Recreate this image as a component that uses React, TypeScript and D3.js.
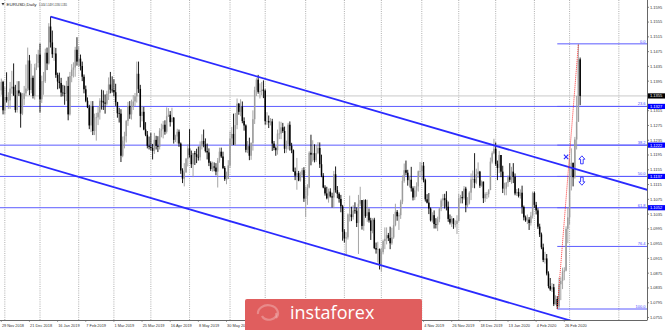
import React from 'react';
import * as d3 from 'd3';

const W = 665;
const H = 330;
const PLOT_R = 647;
const PLOT_B = 320;

const symbolTitle = 'EURUSD,Daily';
const headerValues = ['1.1454', '1.1459', '1.1330', '1.1355'];
const startDate = '2018-11-29';
const holidays = ['2018-12-25', '2019-01-01', '2019-12-25', '2020-01-01'];
const prevClose = 1.137;

// Daily closes, Nov 29 2018 .. Mar 10 2020
const closes = [
  1.1393, 1.1316,
  1.1352, 1.1343, 1.1343, 1.1375, 1.1380, 1.1357, 1.1317, 1.1370, 1.1362, 1.1307, 1.1347, 1.1362, 1.1375, 1.1451, 1.1371, 1.1404, 1.1355, 1.1432, 1.1444, 1.1467,
  1.1346, 1.1395, 1.1395, 1.1472, 1.1443, 1.1543, 1.1500, 1.1468, 1.1470, 1.1412, 1.1394, 1.1390, 1.1364, 1.1363, 1.1362, 1.1382, 1.1305, 1.1409, 1.1426, 1.1432, 1.1480, 1.1448,
  1.1456, 1.1436, 1.1407, 1.1373, 1.1342, 1.1324, 1.1275, 1.1327, 1.1260, 1.1296, 1.1297, 1.1310, 1.1342, 1.1341, 1.1337, 1.1334, 1.1361, 1.1386, 1.1372, 1.1371,
  1.1365, 1.1338, 1.1308, 1.1307, 1.1193, 1.1234, 1.1246, 1.1287, 1.1328, 1.1305, 1.1325, 1.1340, 1.1354, 1.1415, 1.1374, 1.1301, 1.1312, 1.1264, 1.1250, 1.1220, 1.1217,
  1.1214, 1.1206, 1.1236, 1.1220, 1.1217, 1.1261, 1.1265, 1.1277, 1.1258, 1.1300, 1.1304, 1.1284, 1.1296, 1.1236, 1.1245, 1.1258, 1.1226, 1.1153, 1.1131, 1.1148, 1.1185, 1.1213,
  1.1195, 1.1170, 1.1200, 1.1197, 1.1190, 1.1189, 1.1219, 1.1233, 1.1224, 1.1206, 1.1202, 1.1174, 1.1157, 1.1164, 1.1161, 1.1150, 1.1180, 1.1204, 1.1191, 1.1160, 1.1130, 1.1130, 1.1167,
  1.1240, 1.1252, 1.1223, 1.1276, 1.1334, 1.1312, 1.1326, 1.1287, 1.1275, 1.1209, 1.1219, 1.1193, 1.1228, 1.1292, 1.1371, 1.1399, 1.1366, 1.1368, 1.1372, 1.1369,
  1.1287, 1.1287, 1.1283, 1.1286, 1.1226, 1.1214, 1.1208, 1.1253, 1.1253, 1.1270, 1.1260, 1.1212, 1.1224, 1.1277, 1.1220, 1.1208, 1.1151, 1.1139, 1.1146, 1.1126, 1.1141, 1.1154, 1.1077,
  1.1085, 1.1107, 1.1201, 1.1196, 1.1200, 1.1181, 1.1200, 1.1214, 1.1170, 1.1139, 1.1107, 1.1091, 1.1078, 1.1096, 1.1083, 1.1080, 1.1143, 1.1100, 1.1090, 1.1076, 1.1056, 1.0987,
  1.0969, 1.0972, 1.1034, 1.1034, 1.1027, 1.1045, 1.1044, 1.1011, 1.1063, 1.1073, 1.1003, 1.1073, 1.1030, 1.1040, 1.1018, 1.0990, 1.1020, 1.0943, 1.0939, 1.0940, 1.0899,
  1.0932, 1.0962, 1.0968, 1.0978, 1.0970, 1.0956, 1.0972, 1.1005, 1.1041, 1.1029, 1.1032, 1.1069, 1.1125, 1.1154, 1.1147, 1.1127, 1.1128, 1.1105, 1.1080, 1.1099, 1.1110, 1.1151, 1.1151,
  1.1166, 1.1127, 1.1075, 1.1066, 1.1050, 1.1018, 1.1032, 1.1008, 1.1006, 1.1021, 1.1050, 1.1072, 1.1078, 1.1073, 1.1055, 1.1022, 1.1012, 1.1023, 1.1008, 1.1008, 1.1017,
  1.1078, 1.1081, 1.1078, 1.1104, 1.1059, 1.1064, 1.1093, 1.1129, 1.1130, 1.1120, 1.1143, 1.1150, 1.1112, 1.1123, 1.1078, 1.1089, 1.1089, 1.1100, 1.1177, 1.1200, 1.1212,
  1.1171, 1.1160, 1.1195, 1.1150, 1.1104, 1.1104, 1.1120, 1.1135, 1.1128, 1.1150, 1.1136, 1.1091, 1.1095, 1.1084, 1.1093, 1.1054, 1.1026, 1.1018, 1.1020, 1.1011, 1.1031, 1.1092,
  1.1060, 1.1045, 1.1001, 1.0980, 1.0945, 1.0911, 1.0915, 1.0874, 1.0840, 1.0831, 1.0837, 1.0791, 1.0805, 1.0785, 1.0845, 1.0854, 1.0879, 1.0882, 1.0995, 1.1026,
  1.1138, 1.1174, 1.1135, 1.1237, 1.1285, 1.1454, 1.1355,
];

const highs = [
  1.1402, 1.1396,
  1.1380, 1.1419, 1.1365, 1.1393, 1.1423, 1.1443, 1.1385, 1.1395, 1.1395, 1.1365, 1.1363, 1.1382, 1.1440, 1.1486, 1.1466, 1.1442, 1.1410, 1.1442, 1.1468, 1.1480,
  1.1497, 1.1410, 1.1420, 1.1483, 1.1486, 1.1552, 1.1570, 1.1532, 1.1487, 1.1485, 1.1418, 1.1418, 1.1404, 1.1385, 1.1383, 1.1396, 1.1407, 1.1420, 1.1441, 1.1446, 1.1488, 1.1514,
  1.1489, 1.1467, 1.1448, 1.1413, 1.1383, 1.1351, 1.1331, 1.1341, 1.1341, 1.1307, 1.1309, 1.1326, 1.1349, 1.1372, 1.1370, 1.1359, 1.1369, 1.1405, 1.1420, 1.1408,
  1.1400, 1.1388, 1.1339, 1.1323, 1.1319, 1.1245, 1.1258, 1.1290, 1.1339, 1.1341, 1.1345, 1.1357, 1.1363, 1.1448, 1.1448, 1.1385, 1.1328, 1.1325, 1.1284, 1.1260, 1.1245,
  1.1255, 1.1225, 1.1255, 1.1247, 1.1246, 1.1268, 1.1280, 1.1287, 1.1289, 1.1324, 1.1322, 1.1314, 1.1323, 1.1298, 1.1250, 1.1266, 1.1264, 1.1229, 1.1159, 1.1173, 1.1187, 1.1224,
  1.1265, 1.1207, 1.1200, 1.1206, 1.1212, 1.1218, 1.1232, 1.1251, 1.1264, 1.1240, 1.1226, 1.1213, 1.1178, 1.1177, 1.1175, 1.1173, 1.1187, 1.1215, 1.1215, 1.1204, 1.1165, 1.1150, 1.1181,
  1.1259, 1.1271, 1.1307, 1.1309, 1.1348, 1.1336, 1.1346, 1.1340, 1.1297, 1.1278, 1.1233, 1.1242, 1.1229, 1.1316, 1.1380, 1.1403, 1.1412, 1.1389, 1.1393, 1.1397,
  1.1373, 1.1311, 1.1302, 1.1295, 1.1293, 1.1233, 1.1218, 1.1264, 1.1286, 1.1285, 1.1282, 1.1272, 1.1234, 1.1282, 1.1286, 1.1228, 1.1210, 1.1161, 1.1187, 1.1152, 1.1150, 1.1160, 1.1162,
  1.1110, 1.1116, 1.1205, 1.1250, 1.1235, 1.1224, 1.1222, 1.1230, 1.1229, 1.1196, 1.1146, 1.1113, 1.1109, 1.1104, 1.1105, 1.1093, 1.1152, 1.1164, 1.1111, 1.1094, 1.1087, 1.1060,
  1.0994, 1.0986, 1.1037, 1.1085, 1.1055, 1.1059, 1.1067, 1.1053, 1.1087, 1.1109, 1.1046, 1.1075, 1.1075, 1.1074, 1.1050, 1.1025, 1.1024, 1.1025, 1.0958, 1.0960, 1.0942,
  1.0944, 1.0966, 1.0999, 1.0999, 1.0984, 1.1001, 1.0998, 1.1035, 1.1063, 1.1046, 1.1039, 1.1074, 1.1140, 1.1172, 1.1180, 1.1155, 1.1139, 1.1163, 1.1110, 1.1111, 1.1121, 1.1153, 1.1176,
  1.1175, 1.1176, 1.1131, 1.1089, 1.1092, 1.1053, 1.1040, 1.1045, 1.1024, 1.1028, 1.1052, 1.1077, 1.1089, 1.1090, 1.1097, 1.1069, 1.1034, 1.1030, 1.1024, 1.1018, 1.1032,
  1.1090, 1.1087, 1.1097, 1.1111, 1.1109, 1.1081, 1.1097, 1.1145, 1.1153, 1.1200, 1.1158, 1.1175, 1.1152, 1.1126, 1.1123, 1.1094, 1.1095, 1.1103, 1.1188, 1.1205, 1.1239,
  1.1229, 1.1180, 1.1206, 1.1195, 1.1166, 1.1120, 1.1122, 1.1140, 1.1173, 1.1163, 1.1173, 1.1145, 1.1103, 1.1105, 1.1102, 1.1112, 1.1058, 1.1031, 1.1034, 1.1027, 1.1041, 1.1096,
  1.1096, 1.1068, 1.1051, 1.1009, 1.0985, 1.0955, 1.0933, 1.0927, 1.0880, 1.0862, 1.0848, 1.0846, 1.0815, 1.0813, 1.0863, 1.0864, 1.0890, 1.0891, 1.1002, 1.1053,
  1.1185, 1.1213, 1.1168, 1.1244, 1.1355, 1.1496, 1.1459,
];

const lows = [
  1.1358, 1.1305,
  1.1305, 1.1337, 1.1320, 1.1320, 1.1361, 1.1355, 1.1310, 1.1310, 1.1355, 1.1269, 1.1303, 1.1330, 1.1355, 1.1368, 1.1357, 1.1362, 1.1348, 1.1345, 1.1425, 1.1432,
  1.1310, 1.1336, 1.1358, 1.1390, 1.1425, 1.1440, 1.1486, 1.1458, 1.1450, 1.1404, 1.1373, 1.1375, 1.1353, 1.1354, 1.1331, 1.1341, 1.1289, 1.1302, 1.1392, 1.1405, 1.1407, 1.1437,
  1.1433, 1.1424, 1.1395, 1.1362, 1.1338, 1.1322, 1.1265, 1.1257, 1.1249, 1.1249, 1.1234, 1.1276, 1.1291, 1.1318, 1.1317, 1.1307, 1.1329, 1.1344, 1.1362, 1.1364,
  1.1354, 1.1328, 1.1296, 1.1283, 1.1176, 1.1189, 1.1213, 1.1229, 1.1274, 1.1293, 1.1291, 1.1317, 1.1328, 1.1337, 1.1363, 1.1270, 1.1286, 1.1262, 1.1246, 1.1213, 1.1210,
  1.1207, 1.1183, 1.1198, 1.1210, 1.1203, 1.1210, 1.1243, 1.1240, 1.1250, 1.1253, 1.1298, 1.1272, 1.1285, 1.1226, 1.1230, 1.1226, 1.1217, 1.1144, 1.1119, 1.1110, 1.1147, 1.1164,
  1.1188, 1.1160, 1.1135, 1.1168, 1.1173, 1.1180, 1.1180, 1.1210, 1.1216, 1.1202, 1.1183, 1.1165, 1.1152, 1.1150, 1.1151, 1.1140, 1.1107, 1.1174, 1.1187, 1.1157, 1.1125, 1.1116, 1.1136,
  1.1160, 1.1221, 1.1222, 1.1220, 1.1265, 1.1304, 1.1300, 1.1281, 1.1261, 1.1202, 1.1200, 1.1181, 1.1182, 1.1207, 1.1279, 1.1355, 1.1361, 1.1348, 1.1357, 1.1349,
  1.1277, 1.1277, 1.1268, 1.1275, 1.1206, 1.1208, 1.1193, 1.1196, 1.1238, 1.1238, 1.1255, 1.1200, 1.1201, 1.1210, 1.1207, 1.1200, 1.1149, 1.1127, 1.1101, 1.1124, 1.1123, 1.1134, 1.1068,
  1.1027, 1.1060, 1.1105, 1.1167, 1.1177, 1.1175, 1.1176, 1.1197, 1.1160, 1.1135, 1.1105, 1.1085, 1.1075, 1.1066, 1.1080, 1.1053, 1.1051, 1.1093, 1.1078, 1.1066, 1.1040, 1.0963,
  1.0958, 1.0926, 1.0966, 1.1015, 1.1016, 1.1020, 1.1036, 1.1000, 1.0927, 1.1057, 1.0993, 1.0990, 1.1025, 1.1014, 1.1012, 1.0965, 1.0983, 1.0940, 1.0928, 1.0904, 1.0885,
  1.0879, 1.0926, 1.0940, 1.0953, 1.0962, 1.0940, 1.0952, 1.0968, 1.1002, 1.1017, 1.0992, 1.1022, 1.1062, 1.1120, 1.1140, 1.1112, 1.1107, 1.1096, 1.1072, 1.1073, 1.1082, 1.1096, 1.1136,
  1.1128, 1.1121, 1.1069, 1.1064, 1.1035, 1.1015, 1.1012, 1.0996, 1.0996, 1.0989, 1.1013, 1.1043, 1.1056, 1.1050, 1.1045, 1.1014, 1.1007, 1.1000, 1.0995, 1.0999, 1.0981,
  1.1014, 1.1064, 1.1064, 1.1074, 1.1040, 1.1054, 1.1061, 1.1073, 1.1106, 1.1105, 1.1116, 1.1133, 1.1106, 1.1109, 1.1065, 1.1068, 1.1076, 1.1080, 1.1100, 1.1172, 1.1197,
  1.1166, 1.1127, 1.1146, 1.1135, 1.1092, 1.1086, 1.1086, 1.1109, 1.1122, 1.1117, 1.1119, 1.1086, 1.1084, 1.1080, 1.1077, 1.1036, 1.1018, 1.1014, 1.1008, 1.0992, 1.1004, 1.1023,
  1.1052, 1.1034, 1.0995, 1.0973, 1.0940, 1.0905, 1.0901, 1.0869, 1.0834, 1.0827, 1.0824, 1.0786, 1.0790, 1.0778, 1.0780, 1.0802, 1.0832, 1.0856, 1.0880, 1.0956,
  1.1007, 1.1099, 1.1110, 1.1131, 1.1210, 1.1301, 1.1330,
];

const dateLabels = [
  '29 Nov 2018', '21 Dec 2018', '16 Jan 2019', '7 Feb 2019', '1 Mar 2019', '25 Mar 2019',
  '16 Apr 2019', '8 May 2019', '30 May 2019', '21 Jun 2019', '15 Jul 2019', '6 Aug 2019',
  '28 Aug 2019', '19 Sep 2019', '11 Oct 2019', '4 Nov 2019', '26 Nov 2019', '18 Dec 2019',
  '13 Jan 2020', '4 Feb 2020', '26 Feb 2020',
];
const labelStep = 16;

const priceTicks = [
  1.1595, 1.1555, 1.1515, 1.1475, 1.1435, 1.1395, 1.1355, 1.1315, 1.1275, 1.1235, 1.1195,
  1.1155, 1.1115, 1.1075, 1.1035, 1.0995, 1.0955, 1.0915, 1.0875, 1.0835, 1.0795, 1.0755,
];

const fibLevels = [0, 23.6, 38.2, 50, 61.8, 76.4, 100];
const fullWidthLevels = [23.6, 38.2, 50, 61.8];
const bidPrice = 1.1355;

const upperChannel = [{ i: 28, p: 1.157 }, { i: 367, p: 1.1101 }];
const lowerChannel = [{ i: 0, p: 1.1197 }, { i: 367, p: 1.0686 }];

const markers = [
  { kind: 'cross', i: 321, p: 1.119 },
  { kind: 'up', i: 330, p: 1.1182 },
  { kind: 'down', i: 330, p: 1.1124 },
];
const futureGridDates = ['2020-04-01'];

const FONT = 'Liberation Sans, Arial, sans-serif';

export default function App() {
  const n = closes.length;
  const hol = new Set(holidays);
  const dates: Date[] = [];
  let d = new Date(startDate + 'T00:00:00Z');
  while (dates.length < n) {
    const wd = d.getUTCDay();
    const key = d.toISOString().slice(0, 10);
    if (wd !== 0 && wd !== 6 && !hol.has(key)) dates.push(new Date(d.getTime()));
    d = new Date(d.getTime() + 86400000);
  }
  const lastDate = dates[n - 1];
  const futureIdx = futureGridDates.map(
    (s) => n - 1 + Math.round((Date.parse(s + 'T00:00:00Z') - lastDate.getTime()) / 86400000)
  );
  const monthStarts = dates
    .map((dt, i) => (i > 0 && dt.getUTCMonth() !== dates[i - 1].getUTCMonth() ? i : -1))
    .filter((i) => i >= 0);
  const gridIdx = [...monthStarts, ...futureIdx];

  const x = d3.scaleLinear().domain([0, 351]).range([1.3, 1.3 + 351 * 1.7594]);
  const y = d3.scaleLinear().domain([1.0755, 1.1595]).range([317.5, 7.3]);

  const bars = closes.map((c, i) => {
    const o = i === 0 ? prevClose : closes[i - 1];
    const h = Math.max(highs[i], o, c);
    const l = Math.min(lows[i], o, c);
    return { i, o, h, l, c, bull: c >= o };
  });

  const lowIdx = d3.minIndex(lows);
  const highIdx = lowIdx + d3.maxIndex(highs.slice(lowIdx));
  const fibLow = lows[lowIdx];
  const fibHigh = highs[highIdx];
  const lvlPrice = (lv: number) => fibHigh - ((fibHigh - fibLow) * lv) / 100;

  const chanAt = (ch: { i: number; p: number }[], i: number) =>
    ch[0].p + ((ch[1].p - ch[0].p) * (i - ch[0].i)) / (ch[1].i - ch[0].i);
  const iLeft = x.invert(-5);
  const iRight = x.invert(PLOT_R + 5);

  const blue = '#2a2aff';
  const fibBlue = '#5b5bff';

  return (
    <svg
      width={W}
      height={H}
      style={{ position: 'absolute', left: 0, top: 0, background: '#fff' }}
      fontFamily={FONT}
    >
      <defs>
        <clipPath id="plot">
          <rect x={0} y={0} width={PLOT_R} height={PLOT_B} />
        </clipPath>
      </defs>
      <rect x={0} y={0} width={W} height={H} fill="#fff" />

      <g clipPath="url(#plot)">
        {/* vertical month grid */}
        {gridIdx.map((gi) => (
          <line
            key={'g' + gi}
            x1={x(gi)}
            x2={x(gi)}
            y1={0}
            y2={PLOT_B}
            stroke="#9a9a9a"
            strokeWidth={0.8}
            strokeDasharray="1,1.2"
          />
        ))}

        {/* bid line */}
        <line x1={0} x2={PLOT_R} y1={y(bidPrice)} y2={y(bidPrice)} stroke="#c9c9c9" strokeWidth={1} />

        {/* full width horizontal levels */}
        {fullWidthLevels.map((lv) => (
          <line
            key={'h' + lv}
            x1={0}
            x2={PLOT_R}
            y1={y(lvlPrice(lv))}
            y2={y(lvlPrice(lv))}
            stroke={fibBlue}
            strokeWidth={1}
          />
        ))}

        {/* fibo levels */}
        {fibLevels.map((lv) => (
          <g key={'f' + lv}>
            <line
              x1={x(lowIdx)}
              x2={PLOT_R}
              y1={y(lvlPrice(lv))}
              y2={y(lvlPrice(lv))}
              stroke={fibBlue}
              strokeWidth={1}
            />
            <text
              x={PLOT_R - 1.5}
              y={y(lvlPrice(lv)) - 1.2}
              textAnchor="end"
              fontSize={4}
              fill="#4646ff"
            >
              {lv.toFixed(1)}
            </text>
          </g>
        ))}

        {/* candles */}
        {bars.map((b) => {
          const col = b.bull ? '#9c9c9c' : '#000';
          const cx = x(b.i);
          const yTop = y(Math.max(b.o, b.c));
          const yBot = y(Math.min(b.o, b.c));
          return (
            <g key={'c' + b.i}>
              <line x1={cx} x2={cx} y1={y(b.h)} y2={y(b.l)} stroke={col} strokeWidth={0.9} />
              <rect
                x={cx - 0.75}
                y={yTop}
                width={1.5}
                height={Math.max(0.7, yBot - yTop)}
                fill={col}
              />
            </g>
          );
        })}

        {/* channel lines */}
        <line
          x1={x(upperChannel[0].i)}
          y1={y(upperChannel[0].p)}
          x2={x(iRight)}
          y2={y(chanAt(upperChannel, iRight))}
          stroke={blue}
          strokeWidth={1.8}
        />
        <line
          x1={x(iLeft)}
          y1={y(chanAt(lowerChannel, iLeft))}
          x2={x(iRight)}
          y2={y(chanAt(lowerChannel, iRight))}
          stroke={blue}
          strokeWidth={1.8}
        />

        {/* fibo trend line */}
        <line
          x1={x(lowIdx)}
          y1={y(fibLow)}
          x2={x(highIdx)}
          y2={y(fibHigh)}
          stroke="#ff2020"
          strokeWidth={0.9}
          strokeDasharray="1,1"
        />

        {/* arrow markers */}
        {markers.map((m, k) => {
          const cx = x(m.i);
          const cy = y(m.p);
          if (m.kind === 'cross') {
            return (
              <g key={'m' + k} stroke={blue} strokeWidth={1.1}>
                <line x1={cx - 2.2} y1={cy - 2.2} x2={cx + 2.2} y2={cy + 2.2} />
                <line x1={cx - 2.2} y1={cy + 2.2} x2={cx + 2.2} y2={cy - 2.2} />
              </g>
            );
          }
          const s = m.kind === 'up' ? 1 : -1;
          const pts = [
            [0, -4],
            [3, -0.6],
            [1.3, -0.6],
            [1.3, 4],
            [-1.3, 4],
            [-1.3, -0.6],
            [-3, -0.6],
          ]
            .map(([px, py]) => `${cx + px},${cy + s * py}`)
            .join(' ');
          return <polygon key={'m' + k} points={pts} fill="#fff" stroke={blue} strokeWidth={0.9} />;
        })}
      </g>

      {/* axes frame */}
      <line x1={PLOT_R + 0.5} x2={PLOT_R + 0.5} y1={0} y2={PLOT_B} stroke="#666" strokeWidth={1} />
      <line x1={0} x2={PLOT_R + 0.5} y1={PLOT_B + 0.5} y2={PLOT_B + 0.5} stroke="#666" strokeWidth={1} />

      {/* price axis labels */}
      {priceTicks.map((p) => (
        <g key={'p' + p}>
          <line x1={PLOT_R} x2={PLOT_R + 2} y1={y(p)} y2={y(p)} stroke="#666" strokeWidth={0.8} />
          <text x={PLOT_R + 3} y={y(p) + 1.4} fontSize={4} fill="#333">
            {p.toFixed(4)}
          </text>
        </g>
      ))}

      {/* level boxes on axis */}
      {fullWidthLevels.map((lv) => {
        const yy = y(lvlPrice(lv));
        return (
          <g key={'b' + lv}>
            <rect x={PLOT_R + 1} y={yy - 2.6} width={17} height={5.2} fill="#0000ff" />
            <text x={PLOT_R + 3} y={yy + 1.4} fontSize={4} fill="#fff">
              {lvlPrice(lv).toFixed(4)}
            </text>
          </g>
        );
      })}
      <rect x={PLOT_R + 1} y={y(bidPrice) - 2.6} width={17} height={5.2} fill="#000" />
      <text x={PLOT_R + 3} y={y(bidPrice) + 1.4} fontSize={4} fill="#fff">
        {bidPrice.toFixed(4)}
      </text>

      {/* date labels */}
      {dateLabels.map((lab, k) => {
        const gi = k * labelStep;
        return (
          <g key={'d' + k}>
            <line x1={x(gi)} x2={x(gi)} y1={PLOT_B} y2={PLOT_B + 2} stroke="#666" strokeWidth={0.6} />
            <text x={x(gi) + 0.6} y={327} fontSize={3.9} fill="#333">
              {lab}
            </text>
          </g>
        );
      })}

      {/* header */}
      <path d="M1.5,3 L4.5,3 L3,5.5 Z" fill="#333" />
      <text x={6.5} y={6.3} fontSize={4} fill="#222" textLength={30} lengthAdjust="spacingAndGlyphs">
        {symbolTitle}
      </text>
      <text x={39} y={6.3} fontSize={4} fill="#222" textLength={28} lengthAdjust="spacingAndGlyphs">
        {headerValues.join(' ')}
      </text>

      {/* watermark logo */}
      <g>
        <rect x={245} y={299} width={177} height={34} rx={2} fill="#e05e5e" />
        <g fill="none" stroke="rgba(255,255,255,0.28)" strokeWidth={2.2}>
          <path d="M258,314 a10,8 0 1,1 18,4" />
          <path d="M262,316 a7,5 0 1,0 14,-3" />
        </g>
        <text x={290} y={318.5} fontSize={18} fill="#fff" fontFamily="Open Sans, sans-serif">
          instaforex
        </text>
      </g>
    </svg>
  );
}
